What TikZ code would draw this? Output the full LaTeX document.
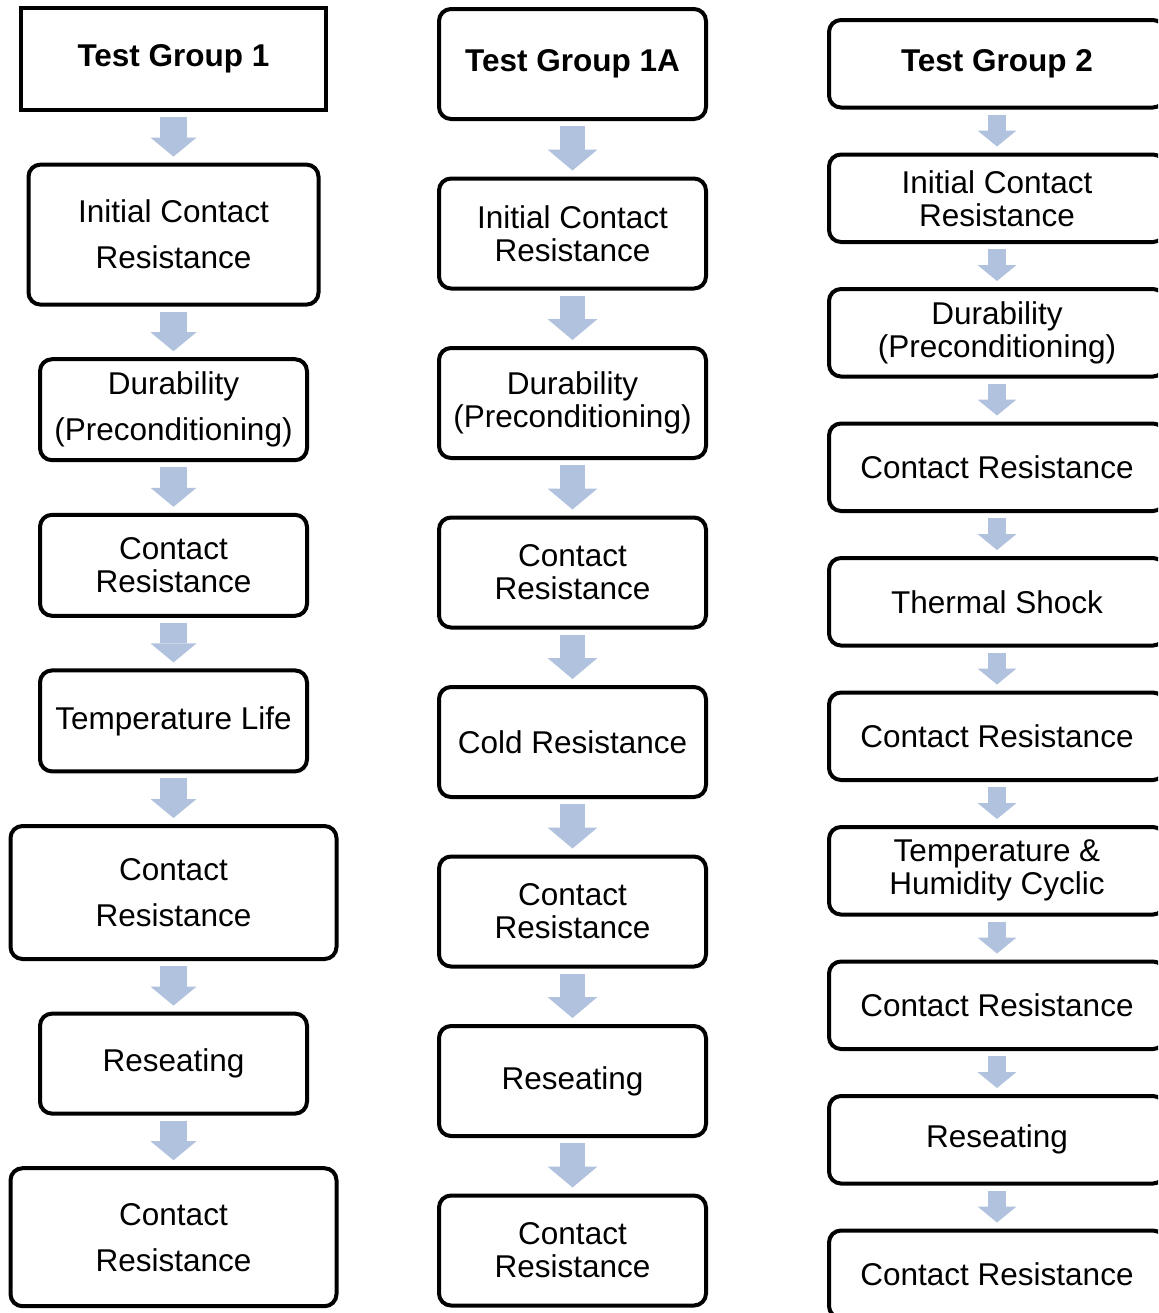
\documentclass[tikz,border=0pt]{standalone}
\usepackage{fontspec}
\setmainfont{Liberation Sans}
\usetikzlibrary{positioning,arrows.meta}
\definecolor{flowblue}{RGB}{176,194,222}

\begin{document}
\begin{tikzpicture}[
  stage/.style={draw,line width=2pt,rounded corners=6pt,align=center,inner sep=2pt,
    font=\fontsize{15.75pt}{16.5pt}\selectfont},
  loose/.style={font=\fontsize{15.75pt}{23pt}\selectfont},
  head/.style={stage,font=\fontsize{15.75pt}{16.5pt}\selectfont\bfseries},
  flow/.style n args={3}{color=flowblue,line width=#1,
    -{Triangle[width=#2,length=#3,line width=0pt]},shorten <=2.5pt,shorten >=3pt}]
\useasboundingbox (0,0) rectangle (579pt,-656.5pt);
\clip (0,0) rectangle (579pt,-656.5pt);

% Test Group 1
\begin{scope}[node distance=25.3pt]
\node[head,sharp corners,minimum width=152.5pt,minimum height=51pt,anchor=north] (tg1) at (86.75pt,-3pt) {Test Group 1};
\node[stage,loose,minimum width=145pt,minimum height=70pt,below=of tg1] (ic1) {Initial Contact\\Resistance};
\node[stage,loose,minimum width=133.5pt,minimum height=50.5pt,below=of ic1] (dur1) {Durability\\(Preconditioning)};
\node[stage,minimum width=133.5pt,minimum height=50.5pt,below=of dur1] (cr1a) {Contact\\Resistance};
\node[stage,minimum width=133.5pt,minimum height=50.5pt,below=of cr1a] (life1) {Temperature Life};
\node[stage,loose,minimum width=163pt,minimum height=66.5pt,below=of life1] (cr1b) {Contact\\Resistance};
\node[stage,minimum width=133.5pt,minimum height=50pt,below=of cr1b] (seat1) {Reseating};
\node[stage,loose,minimum width=163pt,minimum height=69pt,below=of seat1] (cr1c) {Contact\\Resistance};
\end{scope}
\foreach \a/\b in {tg1/ic1,ic1/dur1,dur1/cr1a,cr1a/life1,life1/cr1b,cr1b/seat1,seat1/cr1c}
  \draw[flow={13.5pt}{23pt}{9.5pt}] (\a) -- (\b);

% Test Group 1A
\begin{scope}[node distance=27.75pt,every node/.append style={minimum width=133.5pt,minimum height=55pt}]
\node[head,anchor=north] (tg1a) at (286.25pt,-3.5pt) {Test Group 1A};
\node[stage,below=of tg1a] (ic2) {Initial Contact\\Resistance};
\node[stage,below=of ic2] (dur2) {Durability\\(Preconditioning)};
\node[stage,below=of dur2] (cr2a) {Contact\\Resistance};
\node[stage,below=of cr2a] (cold2) {Cold Resistance};
\node[stage,below=of cold2] (cr2b) {Contact\\Resistance};
\node[stage,below=of cr2b] (seat2) {Reseating};
\node[stage,below=of seat2] (cr2c) {Contact\\Resistance};
\end{scope}
\foreach \a/\b in {tg1a/ic2,ic2/dur2,dur2/cr2a,cr2a/cold2,cold2/cr2b,cr2b/seat2,seat2/cr2c}
  \draw[flow={12.5pt}{25pt}{10.5pt}] (\a) -- (\b);

% Test Group 2
\begin{scope}[node distance=21.5pt,every node/.append style={minimum width=168pt,minimum height=43.75pt,rounded corners=5pt}]
\node[head,anchor=north] (tg2) at (498.5pt,-9pt) {Test Group 2};
\node[stage,below=of tg2] (ic3) {Initial Contact\\Resistance};
\node[stage,below=of ic3] (dur3) {Durability\\(Preconditioning)};
\node[stage,below=of dur3] (cr3a) {Contact Resistance};
\node[stage,below=of cr3a] (shock3) {Thermal Shock};
\node[stage,below=of shock3] (cr3b) {Contact Resistance};
\node[stage,below=of cr3b] (humid3) {Temperature \&\\Humidity Cyclic};
\node[stage,below=of humid3] (cr3c) {Contact Resistance};
\node[stage,below=of cr3c] (seat3) {Reseating};
\node[stage,below=of seat3] (cr3d) {Contact Resistance};
\end{scope}
\foreach \a/\b in {tg2/ic3,ic3/dur3,dur3/cr3a,cr3a/shock3,shock3/cr3b,cr3b/humid3,humid3/cr3c,cr3c/seat3,seat3/cr3d}
  \draw[flow={9pt}{19.5pt}{8pt}] (\a) -- (\b);
\end{tikzpicture}
\end{document}
